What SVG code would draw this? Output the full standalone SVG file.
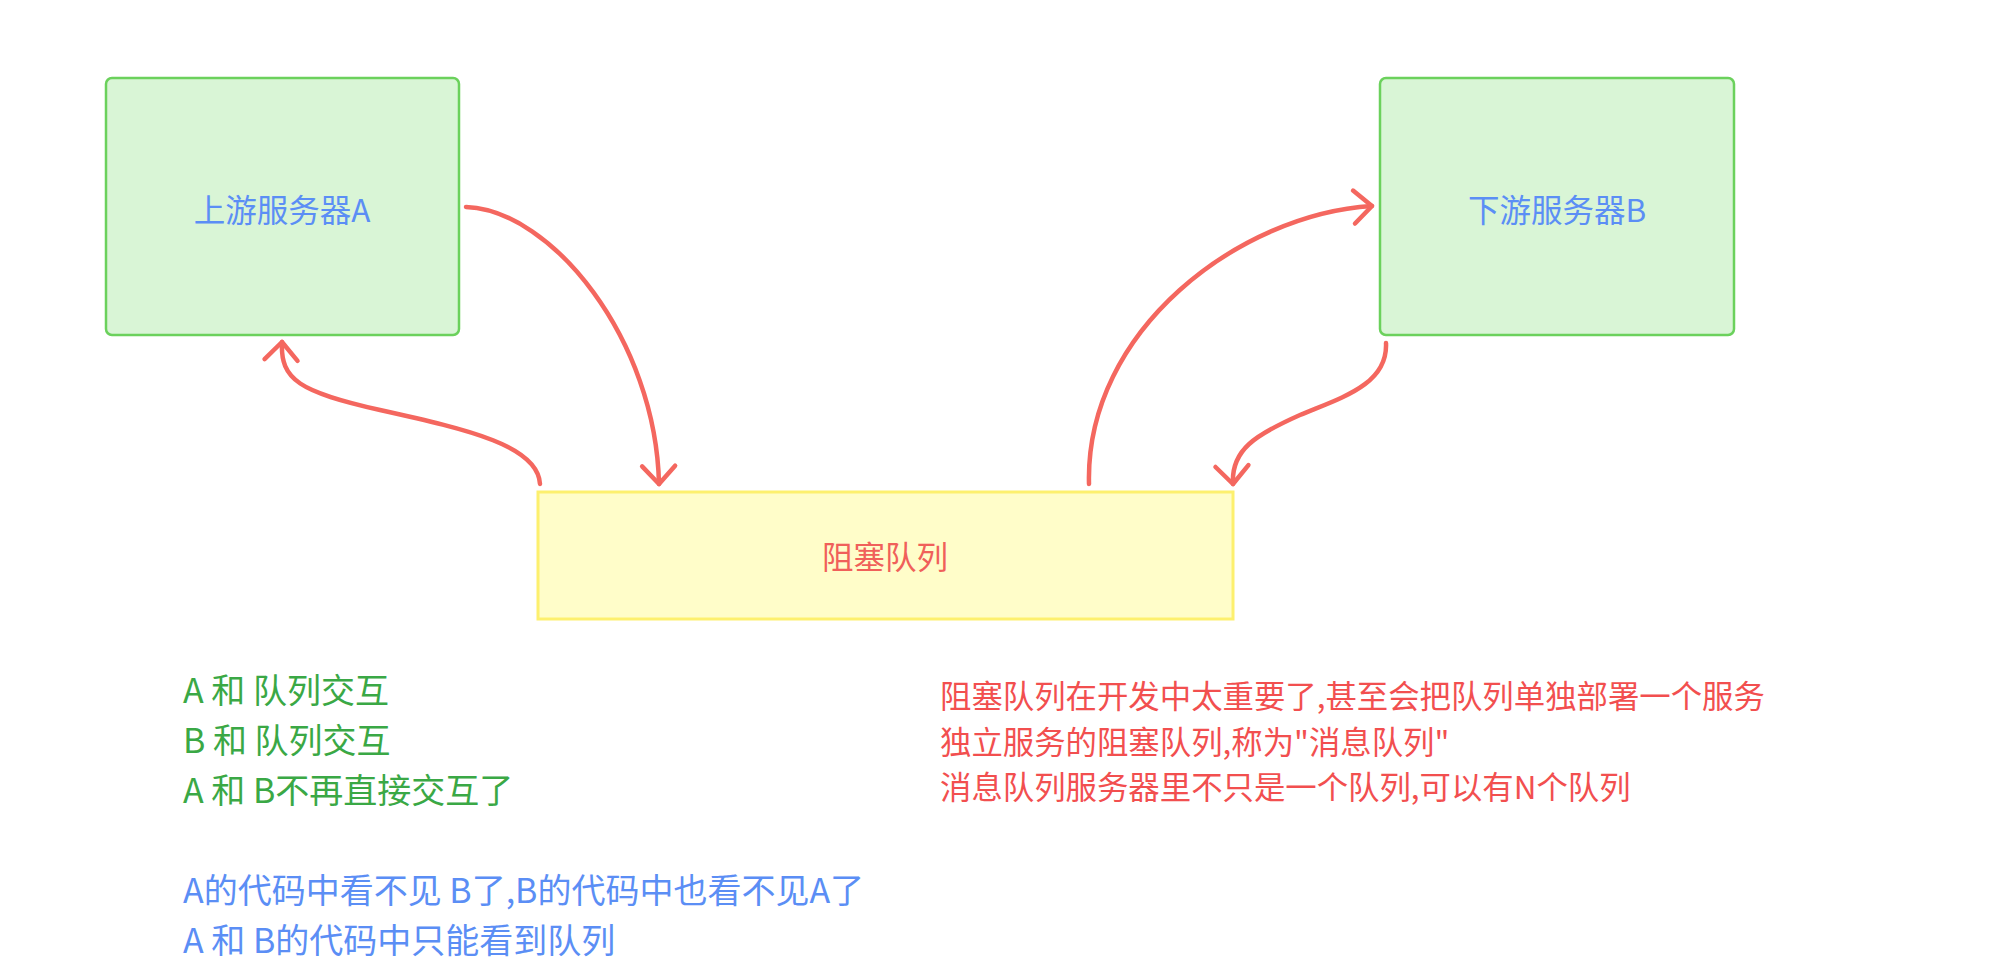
<svg xmlns="http://www.w3.org/2000/svg" width="1995" height="980" viewBox="0 0 1995 980">
<style>
  text { font-family: "Noto Sans CJK SC", "Noto Sans", sans-serif; }
  .server { fill: #d9f5d6; stroke: #6bd15c; stroke-width: 2.5; }
  .queue { fill: #fffdc9; stroke: #fdf06e; stroke-width: 3; }
  .lbl { font-size: 31.5px; text-anchor: middle; }
  .blue { fill: #5b8ef5; }
  .red { fill: #f0605a; }
  .green { fill: #3aa845; }
  .note-red { fill: #f24f4f; }
  .conn { fill: none; stroke: #f4675f; stroke-width: 4.5; stroke-linecap: round; stroke-linejoin: round; }
  .big { font-size: 34px; }
  .mid { font-size: 31.4px; }
</style>
<defs>
  <marker id="arrow" markerUnits="userSpaceOnUse" orient="auto" refX="0" refY="0" markerWidth="40" markerHeight="40" overflow="visible">
    <path d="M -18 -16.5 L 0 0 L -18 16.5" fill="none" stroke="#f4675f" stroke-width="4.5" stroke-linecap="round" stroke-linejoin="round"/>
  </marker>
</defs>
<rect width="1995" height="980" fill="#ffffff"/>

<g id="node-a">
  <rect class="server" x="106" y="78" width="353" height="257" rx="6"/>
  <text class="lbl blue" x="282" y="222">上游服务器A</text>
</g>
<g id="node-b">
  <rect class="server" x="1380" y="78" width="354" height="257" rx="6"/>
  <text class="lbl blue" x="1557" y="222">下游服务器B</text>
</g>
<g id="node-queue">
  <rect class="queue" x="538" y="492" width="695" height="127"/>
  <text class="lbl red" x="885" y="569">阻塞队列</text>
</g>

<g id="connectors">
  <path class="conn" marker-end="url(#arrow)" d="M 466 207 C 552 210, 656 340, 659 484"/>
  <path class="conn" marker-end="url(#arrow)" d="M 540 484 C 538 446, 470 430, 380 410 C 300 392, 280 380, 282 342"/>
  <path class="conn" marker-end="url(#arrow)" d="M 1089 484 C 1085 330, 1240 214, 1372 206"/>
  <path class="conn" marker-end="url(#arrow)" d="M 1386 343 C 1388 385, 1340 398, 1300 415 C 1255 435, 1231 450, 1233 484"/>
</g>

<g id="notes-left">
  <text class="big green" x="183" y="703">A 和 队列交互</text>
  <text class="big green" x="183" y="753">B 和 队列交互</text>
  <text class="big green" x="183" y="803">A 和 B不再直接交互了</text>
  <text class="big blue" x="183" y="903">A的代码中看不见 B了,B的代码中也看不见A了</text>
  <text class="big blue" x="183" y="953">A 和 B的代码中只能看到队列</text>
</g>
<g id="notes-right">
  <text class="mid note-red" x="940" y="708">阻塞队列在开发中太重要了,甚至会把队列单独部署一个服务</text>
  <text class="mid note-red" x="940" y="753.5">独立服务的阻塞队列,称为"消息队列"</text>
  <text class="mid note-red" x="940" y="799">消息队列服务器里不只是一个队列,可以有N个队列</text>
</g>
</svg>
